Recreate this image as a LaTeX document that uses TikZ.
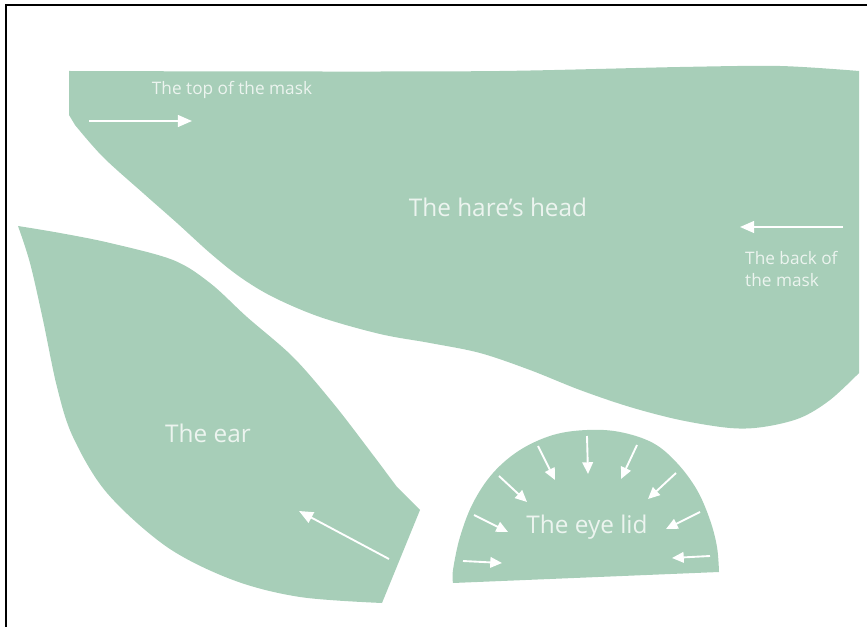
\documentclass[tikz,border=0pt]{standalone}
\usepackage{fontspec}
\setmainfont{Open Sans}
\usetikzlibrary{arrows.meta}
\definecolor{sage}{RGB}{167,206,184}
\definecolor{paletxt}{RGB}{236,244,239}

\begin{document}
\begin{tikzpicture}[
  x=0.03cm, y=-0.03cm,
  piece/.style={fill=sage, draw=none},
  biglbl/.style={text=paletxt, font=\fontsize{20.8}{24}\selectfont, inner sep=0pt},
  smalllbl/.style={text=paletxt, font=\fontsize{14.7}{18.7}\selectfont, inner sep=0pt, align=left},
  arr/.style={draw=white, line width=1.6pt, -{Triangle[length=12pt,width=10pt]}},
  sarr/.style={arr, -{Triangle[length=10pt,width=9pt]}},
]
\useasboundingbox (0,0) rectangle (867,627);
% ---------- frame ----------
\draw[line width=2pt] (6,627) -- (6,5) -- (867,5);

% ---------- the hare's head ----------
\fill[piece] plot[smooth, tension=0.5] coordinates {(69,71) (300,71.5) (500,71) (680,67) (780,66) (859,71)}
  -- (859,373)
  -- plot[smooth, tension=0.55] coordinates {(859,373) (830,400) (800,418) (763,427) (730,428) (680,420) (630,407)
       (580,390) (530,370) (480,353) (430,343) (380,334) (320,317) (273,297) (240,277) (210,253) (177,223)
       (143,193) (103,157) (75,125)}
  -- (69,115) -- cycle;
\node[biglbl] (headlbl) at (498,207) {The hare’s head};
\node[smalllbl] (toplbl) at (232,90) {The top of the mask};
\node[smalllbl, anchor=west] (backlbl) at (745,269) {The back of\\the mask};
\draw[arr] (89,121) -- (192,121);
\draw[arr] (843,227) -- (740,227);

% ---------- the ear ----------
\fill[piece] plot[smooth, tension=0.55] coordinates {(18,226) (60,233) (110,243) (173,260) (210,283) (247,317)
       (293,357) (333,403) (367,447) (397,487)}
  -- (420,510) -- (382,603)
  -- plot[smooth, tension=0.55] coordinates {(382,603) (300,597) (233,580) (167,547) (107,493) (73,437)
       (57,387) (43,320) (30,263) (18,226)}
  -- cycle;
\node[biglbl] (earlbl) at (208,433) {The ear};
\draw[arr] (389,559) -- (299,511);

% ---------- the eye lid ----------
\fill[piece] (453,583) -- (719,572)
  -- plot[smooth, tension=0.6] coordinates {(719,572) (717,547) (710,520) (697,490) (677,463) (653,443)
       (620,432) (587,430) (553,435) (520,450) (493,473) (473,503) (460,537) (453,570) (453,583)}
  -- cycle;
\node[biglbl] (lidlbl) at (587,527) {The eye lid};
\foreach \xa/\ya/\xb/\yb in {463/561/502/563, 474/515/508/532, 499/476/527/502, 538/446/555/480,
    587/436/588/474, 637/445/621/479, 676/473/648/499, 700/512/666/529, 710/556/672/558}
  \draw[sarr] (\xa,\ya) -- (\xb,\yb);
\end{tikzpicture}
\end{document}
